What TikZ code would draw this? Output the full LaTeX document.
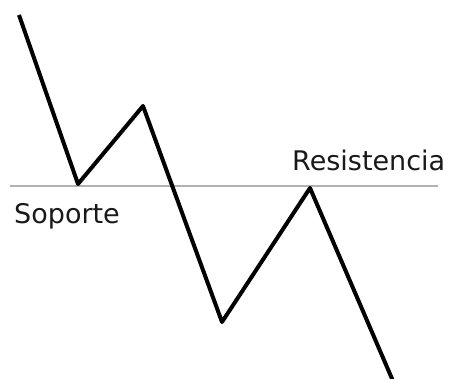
\documentclass[tikz,border=0pt]{standalone}
\usepackage{fontspec}
\setmainfont{DejaVu Sans}
\begin{document}
\begin{tikzpicture}[x=1pt, y=-1pt,
    price/.style={line width=4pt, line join=round, black},
    level/.style={line width=1.8pt, gray!60},
    lbl/.style={inner sep=0pt, font=\fontsize{27}{31}\selectfont, text=black!90}]
\useasboundingbox (0,0) rectangle (450,379);
% nivel horizontal
\coordinate (LL) at (10,186);
\coordinate (LR) at (438,186);
\draw[level] (LL) -- (LR);
% precio en zigzag
\coordinate (P0) at (19,15);
\coordinate (P1) at (78,184);
\coordinate (P2) at (143,106);
\coordinate (P3) at (222,322);
\coordinate (P4) at (310,188);
\coordinate (P5) at (393,381);
\draw[price] (P0) -- (P1) -- (P2) -- (P3) -- (P4) -- (P5);
% etiquetas
\node[lbl, anchor=base west] (sop) at (14,224) {Soporte};
\node[lbl, anchor=base west] (res) at (292,171) {Resistencia};
\end{tikzpicture}
\end{document}
